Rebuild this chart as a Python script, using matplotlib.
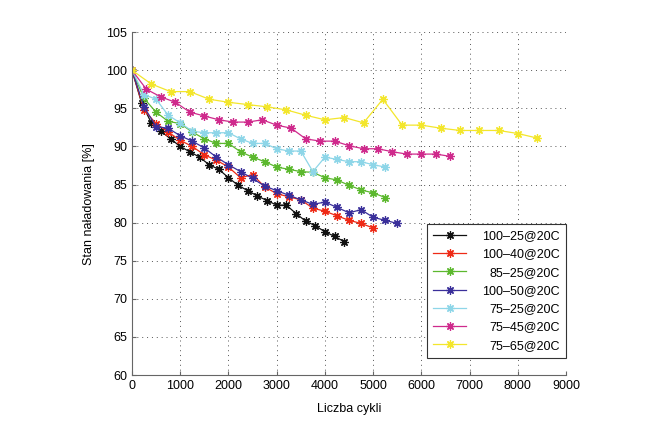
import matplotlib
matplotlib.use("Agg")
import matplotlib.pyplot as plt

plt.rcParams['font.family'] = ['Liberation Sans Narrow', 'Liberation Sans', 'DejaVu Sans']
plt.rcParams['font.size'] = 9

# data
labels = ["100\u201325@20C", "100\u201340@20C", "85\u201325@20C", "100\u201350@20C",
          "75\u201325@20C", "75\u201345@20C", "75\u201365@20C"]
colors = ["#111111", "#ee2a16", "#5cb82e", "#3a2f9a", "#8ed6e8", "#cf2a8c", "#f3e62c"]

x_100_25 = list(range(0, 4401, 200))
y_100_25 = [100, 95.7, 93.1, 92.0, 91.0, 90.0, 89.3, 88.6, 87.6, 87.0, 85.9, 84.9,
            84.2, 83.5, 82.9, 82.3, 82.3, 81.2, 80.2, 79.6, 78.8, 78.2, 77.5]

x_100_40 = list(range(0, 5001, 250))
y_100_40 = [100, 94.8, 93.0, 91.9, 90.8, 90.0, 88.9, 88.2, 87.3, 85.9, 86.3, 84.7,
            83.8, 83.4, 83.0, 81.9, 81.5, 80.9, 80.3, 79.9, 79.3]

x_85_25 = list(range(0, 5251, 250))
y_85_25 = [100, 96.3, 94.5, 93.3, 93.0, 91.9, 91.0, 90.4, 90.4, 89.3, 88.6, 88.0,
           87.3, 87.0, 86.7, 86.6, 85.9, 85.6, 84.9, 84.3, 83.9, 83.3]

x_100_50 = list(range(0, 5501, 250))
y_100_50 = [100, 95.2, 92.6, 92.4, 91.4, 90.7, 89.8, 88.6, 87.6, 86.7, 85.8, 84.8,
            84.2, 83.6, 83.0, 82.4, 82.7, 82.0, 81.3, 81.7, 80.7, 80.3, 79.9]

x_75_25 = list(range(0, 5251, 250))
y_75_25 = [100, 96.8, 96.2, 94.1, 93.1, 92.0, 91.8, 91.8, 91.8, 91.0, 90.4, 90.4,
           89.7, 89.4, 89.4, 86.7, 88.6, 88.3, 88.0, 88.0, 87.6, 87.3]

x_75_45 = list(range(0, 6601, 300))
y_75_45 = [100, 97.5, 96.5, 95.8, 94.5, 94.0, 93.5, 93.2, 93.2, 93.5, 92.8, 92.4,
           91.0, 90.7, 90.7, 90.1, 89.7, 89.7, 89.3, 89.0, 89.0, 89.0, 88.7]

x_75_65 = list(range(0, 8401, 400))
y_75_65 = [100, 98.2, 97.2, 97.2, 96.2, 95.8, 95.5, 95.2, 94.8, 94.1, 93.5, 93.8,
           93.1, 96.2, 92.8, 92.8, 92.4, 92.1, 92.1, 92.1, 91.7, 91.1]

series = [(x_100_25, y_100_25), (x_100_40, y_100_40), (x_85_25, y_85_25),
          (x_100_50, y_100_50), (x_75_25, y_75_25), (x_75_45, y_75_45),
          (x_75_65, y_75_65)]

fig = plt.figure(figsize=(6.7, 4.47), dpi=100)
ax = fig.add_axes([0.197, 0.161, 0.648, 0.767])

for (xs, ys), lab, col in zip(series, labels, colors):
    ax.plot(xs, ys, color=col, lw=0.9, marker=(8, 2, 0), markersize=6,
            markeredgewidth=0.9, label=lab)

ax.set_xlim(0, 9000)
ax.set_ylim(60, 105)
ax.set_xticks(range(0, 9001, 1000))
ax.set_yticks(range(60, 106, 5))
ax.grid(True, linestyle=(0, (1, 4)), color="#555555", lw=0.7)
for side in ["top", "right"]:
    ax.spines[side].set_visible(False)
for side in ["left", "bottom"]:
    ax.spines[side].set_color("#666666")
ax.tick_params(direction="in", length=3, color="#666666", labelsize=9)

ax.set_xlabel("Liczba cykli", fontsize=9, labelpad=8)
ax.set_ylabel("Stan na\u0142adowania [%]", fontsize=9, labelpad=8)

leg = ax.legend(loc="lower right", bbox_to_anchor=(1.0, 0.05), borderaxespad=0,
                fancybox=False, edgecolor="#333333", framealpha=1,
                handlelength=2.6, labelspacing=0.5, fontsize=9, borderpad=0.5,
                handletextpad=1.3)
leg.get_frame().set_linewidth(0.8)

# right-align the legend texts like the original: push shorter labels right
fig.canvas.draw()
renderer = fig.canvas.get_renderer()
texts = leg.get_texts()
widths = [t.get_window_extent(renderer).width for t in texts]
wmax = max(widths)
for t, w in zip(texts, widths):
    t.set_position((wmax - w, 0))

fig.savefig("out.png", dpi=100)
